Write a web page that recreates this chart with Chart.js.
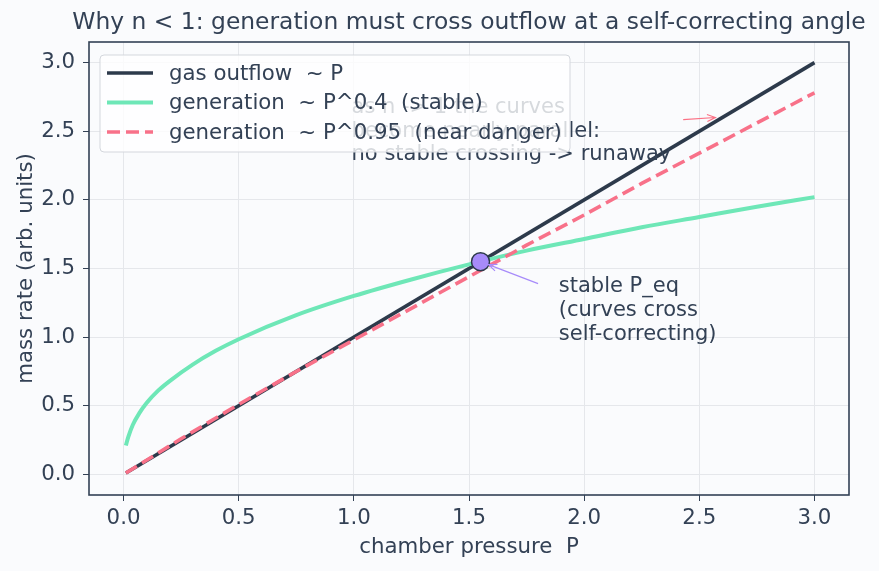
<!DOCTYPE html>
<html>
<head>
<meta charset="utf-8">
<script src="https://cdn.jsdelivr.net/npm/chart.js@4/dist/chart.umd.min.js"></script>
<style>
  html, body { margin: 0; padding: 0; background: #fafbfd; }
  #wrap { width: 879px; height: 571px; }
</style>
</head>
<body>
<div id="wrap"><canvas id="rateChart"></canvas></div>
<script>
// values
const outflowP = [0.01, 3.0];
const outflowRate = [0.01, 3.0];

const genStableP = [0.01, 0.02, 0.04, 0.07, 0.1, 0.15, 0.2, 0.3, 0.4, 0.5, 0.75, 1.0, 1.25, 1.5, 1.75, 2.0, 2.25, 2.5, 2.75, 3.0];
const genStableRate = [0.21, 0.27, 0.36, 0.45, 0.52, 0.61, 0.68, 0.80, 0.90, 0.985, 1.16, 1.30, 1.42, 1.53, 1.63, 1.715, 1.80, 1.875, 1.95, 2.02];

const genDangerP = [0.01, 0.25, 0.5, 0.75, 1.0, 1.25, 1.5, 1.75, 2.0, 2.25, 2.5, 2.75, 3.0];
const genDangerRate = [0.01, 0.26, 0.51, 0.75, 0.98, 1.21, 1.44, 1.67, 1.89, 2.12, 2.34, 2.56, 2.78];

const eqPoint = [1.55, 1.55];

const xTicks = [0, 0.5, 1.0, 1.5, 2.0, 2.5, 3.0];
const yTicks = [0, 0.5, 1.0, 1.5, 2.0, 2.5, 3.0];

const seriesLabels = ['gas outflow  ~ P', 'generation  ~ P^0.4  (stable)', 'generation  ~ P^0.95  (near danger)'];

const INK = '#334155';
const FONT = '"DejaVu Sans", sans-serif';

function pts(xs, ys) {
  return xs.map((x, i) => ({ x, y: ys[i] }));
}

function arrow(ctx, x1, y1, x2, y2, color) {
  const a = Math.atan2(y2 - y1, x2 - x1);
  ctx.save();
  ctx.strokeStyle = color;
  ctx.lineWidth = 1.2;
  ctx.beginPath();
  ctx.moveTo(x1, y1);
  ctx.lineTo(x2, y2);
  ctx.moveTo(x2 - 9 * Math.cos(a - 0.4), y2 - 9 * Math.sin(a - 0.4));
  ctx.lineTo(x2, y2);
  ctx.lineTo(x2 - 9 * Math.cos(a + 0.4), y2 - 9 * Math.sin(a + 0.4));
  ctx.stroke();
  ctx.restore();
}

const paper = {
  id: 'paper',
  beforeDraw(chart) {
    const c = chart.ctx;
    c.save();
    c.fillStyle = '#fafbfd';
    c.fillRect(0, 0, chart.width, chart.height);
    c.restore();
  },
  afterDatasetsDraw(chart) {
    const c = chart.ctx;
    const { left, right, top, bottom } = chart.chartArea;
    const xs = chart.scales.x, ys = chart.scales.y;

    // frame
    c.save();
    c.strokeStyle = INK;
    c.lineWidth = 1.6;
    c.strokeRect(left, top, right - left, bottom - top);

    // annotations
    c.fillStyle = INK;
    c.font = '21px ' + FONT;
    c.textAlign = 'left';
    c.textBaseline = 'middle';
    const runaway = ['as n -> 1 the curves', 'become nearly parallel:', 'no stable crossing -> runaway'];
    const ry = ys.getPixelForValue(2.685) + 2;
    runaway.forEach((t, i) => c.fillText(t, xs.getPixelForValue(0.99), ry + i * 23.6));
    arrow(c, xs.getPixelForValue(2.43), ys.getPixelForValue(2.585), xs.getPixelForValue(2.57), ys.getPixelForValue(2.60), '#fb7185');

    const stable = ['stable P_eq', '(curves cross', 'self-correcting)'];
    const sy = ys.getPixelForValue(1.38) + 2;
    stable.forEach((t, i) => c.fillText(t, xs.getPixelForValue(1.89), sy + i * 23.6));
    arrow(c, xs.getPixelForValue(1.80), ys.getPixelForValue(1.39), xs.getPixelForValue(1.55) + 8, ys.getPixelForValue(1.55) + 3, '#a78bfa');
    c.restore();
  },
  afterDraw(chart) {
    const c = chart.ctx;
    const { left, right, top, bottom } = chart.chartArea;
    c.save();
    c.fillStyle = INK;
    c.textAlign = 'center';
    c.textBaseline = 'middle';
    c.font = '23.4px ' + FONT;
    c.fillText('Why n < 1: generation must cross outflow at a self-correcting angle', (left + right) / 2, 23);
    c.font = '21.3px ' + FONT;
    c.fillText('chamber pressure  P', (left + right) / 2, 547);
    c.save();
    c.translate(26, (top + bottom) / 2);
    c.rotate(-Math.PI / 2);
    c.fillText('mass rate (arb. units)', 0, 0);
    c.restore();

    // legend box
    const bx = 100, by = 55, bw = 470, bh = 97, r = 4;
    c.beginPath();
    c.moveTo(bx + r, by);
    c.arcTo(bx + bw, by, bx + bw, by + bh, r);
    c.arcTo(bx + bw, by + bh, bx, by + bh, r);
    c.arcTo(bx, by + bh, bx, by, r);
    c.arcTo(bx, by, bx + bw, by, r);
    c.closePath();
    c.fillStyle = 'rgba(255,255,255,0.8)';
    c.fill();
    c.strokeStyle = '#d4d7dd';
    c.lineWidth = 1;
    c.stroke();

    c.textAlign = 'left';
    chart.data.datasets.slice(0, 3).forEach((ds, i) => {
      const y = 73 + i * 29.5;
      c.strokeStyle = ds.borderColor;
      c.lineWidth = ds.borderWidth;
      c.setLineDash(ds.borderDash || []);
      c.beginPath();
      c.moveTo(107, y);
      c.lineTo(153, y);
      c.stroke();
      c.setLineDash([]);
      c.fillStyle = INK;
      c.fillText(ds.label, 169, y + 1);
    });
    c.restore();
  }
};

new Chart(document.getElementById('rateChart'), {
  type: 'line',
  data: {
    datasets: [
      { label: seriesLabels[0], data: pts(outflowP, outflowRate), borderColor: '#2d3a4b', borderWidth: 3.6, pointRadius: 0, order: 3 },
      { label: seriesLabels[1], data: pts(genStableP, genStableRate), borderColor: '#6ee7b7', borderWidth: 4, pointRadius: 0, cubicInterpolationMode: 'monotone', order: 2 },
      { label: seriesLabels[2], data: pts(genDangerP, genDangerRate), borderColor: '#f87189', borderWidth: 3.6, borderDash: [13, 6], pointRadius: 0, order: 1 },
      { label: 'P_eq', data: [{ x: eqPoint[0], y: eqPoint[1] }], showLine: false, pointRadius: 9, pointBackgroundColor: '#a78bfa', pointBorderColor: '#2d3a4b', pointBorderWidth: 1.5, order: 0 }
    ]
  },
  options: {
    responsive: true,
    maintainAspectRatio: false,
    animation: false,
    layout: { padding: { left: 0, top: 42, right: 30, bottom: 0 } },
    plugins: { legend: { display: false }, tooltip: { enabled: false }, title: { display: false } },
    scales: {
      x: {
        type: 'linear', min: -0.15, max: 3.15,
        afterBuildTicks: s => { s.ticks = xTicks.map(v => ({ value: v })); },
        afterFit: s => { s.height = 76; },
        grid: { color: '#e5e7eb', lineWidth: 1, tickLength: 6, tickColor: INK },
        border: { display: false },
        ticks: { color: INK, font: { size: 21.3, family: FONT }, padding: 5, maxRotation: 0, callback: v => v.toFixed(1) }
      },
      y: {
        type: 'linear', min: -0.15, max: 3.15,
        afterBuildTicks: s => { s.ticks = yTicks.map(v => ({ value: v })); },
        afterFit: s => { s.width = 89; },
        grid: { color: '#e5e7eb', lineWidth: 1, tickLength: 6, tickColor: INK },
        border: { display: false },
        ticks: { color: INK, font: { size: 21.3, family: FONT }, padding: 8, callback: v => v.toFixed(1) }
      }
    }
  },
  plugins: [paper]
});
</script>
</body>
</html>
